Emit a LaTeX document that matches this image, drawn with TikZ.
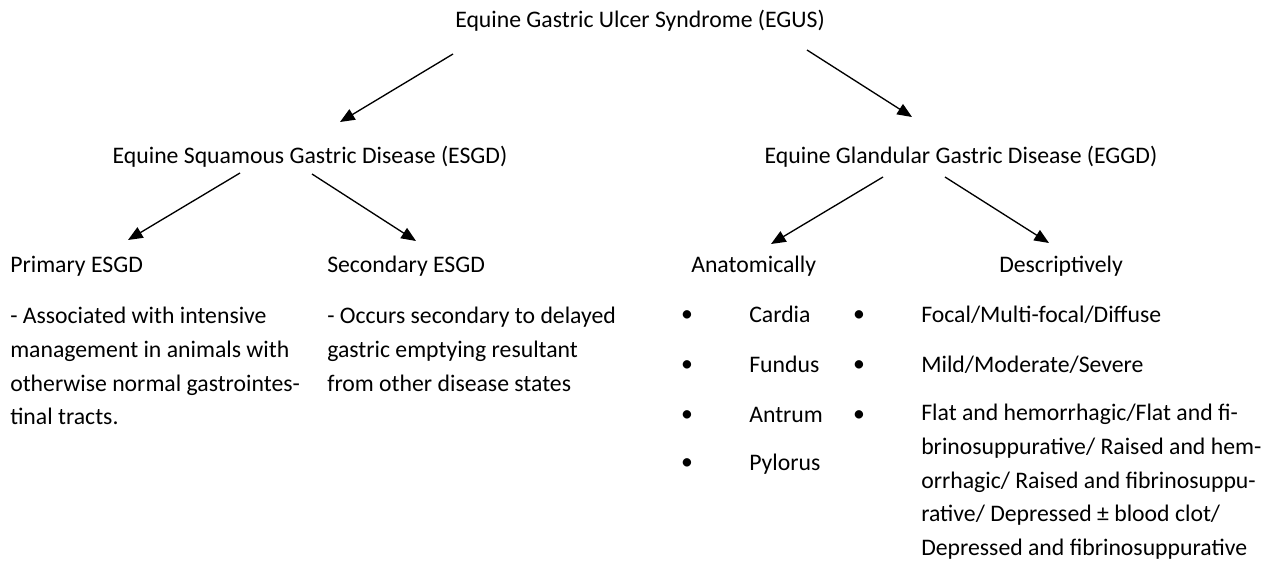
\documentclass[tikz,border=0pt]{standalone}
\usepackage{fontspec}
\setmainfont{Carlito}
\usetikzlibrary{arrows.meta}
\begin{document}
\begin{tikzpicture}[x=0.75pt,y=-0.75pt,
  lbl/.style={inner sep=0pt, font=\fontsize{17.8}{25.3}\selectfont, anchor=base west},
  para/.style={lbl, align=left, anchor=north west},
  bul/.style={inner sep=0pt, font=\fontsize{17.8}{25.3}\selectfont, anchor=center},
  arr/.style={-{Triangle[length=11pt,width=9pt]}, line width=1pt},
]
\useasboundingbox (0,0) rectangle (1277,568);
% level 0
\node[lbl, anchor=base] (egus) at (640,27) {Equine Gastric Ulcer Syndrome (EGUS)};
% level 1
\node[lbl, anchor=base] (esgd) at (310,163) {Equine Squamous Gastric Disease (ESGD)};
\node[lbl, anchor=base] (eggd) at (961,163) {Equine Glandular Gastric Disease (EGGD)};
% level 2
\node[lbl] (prim) at (10,272) {Primary ESGD};
\node[lbl] (sec) at (327,272) {Secondary ESGD};
\node[lbl] (anat) at (691,272) {Anatomically};
\node[lbl] (desc) at (999,272) {Descriptively};
% paragraphs
\node[para] (primtxt) at (10,307) {- Associated with intensive\\management in animals with\\otherwise normal gastrointes-\\tinal tracts.};
\node[para] (sectxt) at (327,307) {- Occurs secondary to delayed\\gastric emptying resultant\\from other disease states};
% anatomical list
\node[bul] (b1) at (687,316) {•};
\node[bul] (b2) at (687,366) {•};
\node[bul] (b3) at (687,416) {•};
\node[bul] (b4) at (687,464) {•};
\node[lbl] (cardia) at (749,322) {Cardia};
\node[lbl] (fundus) at (749,372) {Fundus};
\node[lbl] (antrum) at (749,422) {Antrum};
\node[lbl] (pylorus) at (749,470) {Pylorus};
% descriptive list
\node[bul] (c1) at (859,316) {•};
\node[bul] (c2) at (859,366) {•};
\node[bul] (c3) at (859,416) {•};
\node[lbl] (focal) at (921,322) {Focal/Multi-focal/Diffuse};
\node[lbl] (mild) at (921,372) {Mild/Moderate/Severe};
\node[para] (flat) at (921,404) {Flat and hemorrhagic/Flat and fi-\\brinosuppurative/ Raised and hem-\\orrhagic/ Raised and fibrinosuppu-\\rative/ Depressed ± blood clot/\\Depressed and fibrinosuppurative};
% arrow end points
\coordinate (egus-l) at (453,54);
\coordinate (esgd-t) at (340,122);
\coordinate (egus-r) at (807,50);
\coordinate (eggd-t) at (912,117);
\coordinate (esgd-l) at (240,173);
\coordinate (prim-t) at (128,240);
\coordinate (esgd-r) at (312,174);
\coordinate (sec-t) at (416,241);
\coordinate (eggd-l) at (883,177);
\coordinate (anat-t) at (771,244);
\coordinate (eggd-r) at (945,177);
\coordinate (desc-t) at (1049,243);
\draw[arr] (egus-l) -- (esgd-t);
\draw[arr] (egus-r) -- (eggd-t);
\draw[arr] (esgd-l) -- (prim-t);
\draw[arr] (esgd-r) -- (sec-t);
\draw[arr] (eggd-l) -- (anat-t);
\draw[arr] (eggd-r) -- (desc-t);
\end{tikzpicture}
\end{document}
